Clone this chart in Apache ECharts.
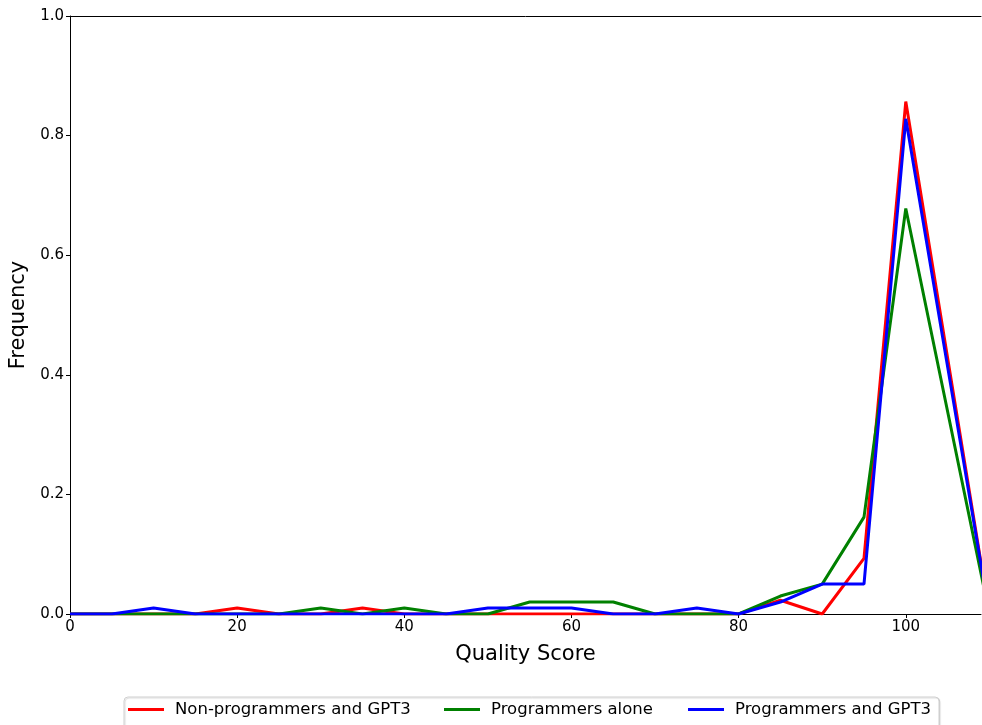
<!DOCTYPE html>
<html>
<head>
<meta charset="utf-8">
<script src="https://cdn.jsdelivr.net/npm/echarts@6/dist/echarts.min.js"></script>
<style>
  html, body { margin: 0; padding: 0; background: #fff; }
  #myChart { width: 982px; height: 725px; }
</style>
</head>
<body>
<div id="myChart"></div>
<script>
// quality score bins
var scores = [0, 5, 10, 15, 20, 25, 30, 35, 40, 45, 50, 55, 60, 65, 70, 75, 80, 85, 90, 95, 100, 110];
var nonProgGpt3 = [0, 0, 0, 0, 0.01, 0, 0, 0.01, 0, 0, 0, 0, 0, 0, 0, 0, 0, 0.023, 0, 0.093, 0.857, 0];
var progAlone = [0, 0, 0, 0, 0, 0, 0.01, 0, 0.01, 0, 0, 0.02, 0.02, 0.02, 0, 0, 0, 0.03, 0.05, 0.162, 0.678, 0];
var progGpt3 = [0, 0, 0.01, 0, 0, 0, 0, 0, 0, 0, 0.01, 0.01, 0.01, 0, 0, 0.01, 0, 0.02, 0.05, 0.05, 0.828, 0];
var seriesNames = ["Non-programmers and GPT3", "Programmers alone", "Programmers and GPT3"];
var colors = ["#ff0000", "#008000", "#0000ff"];

function pairs(xs, ys) {
  return xs.map(function (x, i) { return [x, ys[i]]; });
}

var font = "DejaVu Sans";
var legendLeft = [128, 444, 688];

var myChart = echarts.init(document.getElementById("myChart"));
var option = {
  animation: false,
  backgroundColor: "#fff",
  grid: { left: 70, top: 16, right: 1, bottom: 111, outerBoundsMode: "none", containLabel: false },
  graphic: [
    {
      type: "rect",
      shape: { x: 124, y: 697, width: 815, height: 40, r: 4 },
      style: { fill: "#fff", stroke: "#d0d0d0", lineWidth: 1,
        shadowColor: "rgba(0,0,0,0.15)", shadowOffsetX: 1, shadowOffsetY: 1, shadowBlur: 1 },
      z: -1
    }
  ],
  legend: seriesNames.map(function (n, i) {
    return {
      top: 701,
      left: legendLeft[i],
      padding: 0,
      itemWidth: 36,
      itemHeight: 3,
      icon: "rect",
      textStyle: { fontFamily: font, fontSize: 16.5, color: "#000", padding: [0, 0, 0, 6] },
      data: [n]
    };
  }),
  xAxis: [
    {
      type: "value",
      min: 0,
      max: 109,
      interval: 20,
      name: "Quality Score",
      nameLocation: "middle",
      nameGap: 30,
      nameTextStyle: { fontFamily: font, fontSize: 21, color: "#000" },
      axisLine: { show: true, lineStyle: { color: "#000", width: 1 } },
      axisTick: { show: true, inside: false, length: 4, lineStyle: { color: "#000" } },
      axisLabel: { fontFamily: font, fontSize: 15, color: "#000", margin: 6, showMaxLabel: false },
      splitLine: { show: false }
    },
    {
      type: "value",
      position: "top",
      min: 0,
      max: 109,
      axisLine: { show: true, onZero: false, lineStyle: { color: "#000", width: 1 } },
      axisTick: { show: false },
      axisLabel: { show: false },
      splitLine: { show: false }
    }
  ],
  yAxis: {
    type: "value",
    min: 0,
    max: 1,
    interval: 0.2,
    name: "Frequency",
    nameLocation: "middle",
    nameGap: 40,
    nameTextStyle: { fontFamily: font, fontSize: 21, color: "#000" },
    axisLine: { show: true, lineStyle: { color: "#000", width: 1 } },
    axisTick: { show: true, length: 4, lineStyle: { color: "#000" } },
    axisLabel: {
      fontFamily: font, fontSize: 15, color: "#000", margin: 6,
      formatter: function (v) { return v.toFixed(1); }
    },
    splitLine: { show: false }
  },
  series: [
    {
      name: seriesNames[0],
      type: "line",
      showSymbol: false,
      color: colors[0],
      lineStyle: { width: 3, color: colors[0] },
      data: pairs(scores, nonProgGpt3)
    },
    {
      name: seriesNames[1],
      type: "line",
      showSymbol: false,
      color: colors[1],
      lineStyle: { width: 3, color: colors[1] },
      data: pairs(scores, progAlone)
    },
    {
      name: seriesNames[2],
      type: "line",
      showSymbol: false,
      color: colors[2],
      lineStyle: { width: 3, color: colors[2] },
      data: pairs(scores, progGpt3)
    }
  ]
};
myChart.setOption(option);
</script>
</body>
</html>
